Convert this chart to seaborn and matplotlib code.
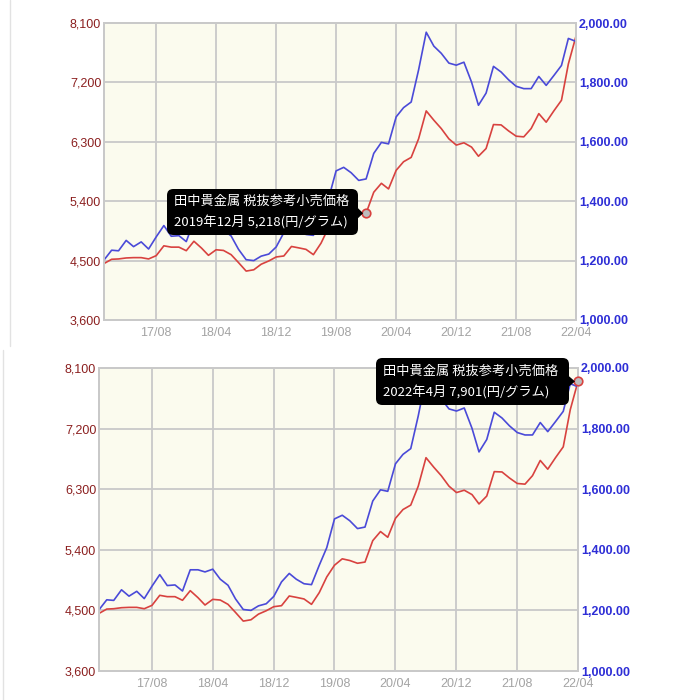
import numpy as np
import pandas as pd
import matplotlib
matplotlib.use("Agg")
import matplotlib.pyplot as plt
import matplotlib.dates as mdates
from matplotlib.patches import FancyBboxPatch, Polygon
from matplotlib.lines import Line2D
import seaborn as sns

# -----------------------------
# DATA (monthly, 2017/01 - 2022/04)
# -----------------------------
start_month = "2017-01-01"

# Tanaka retail price, yen / gram (left axis)
price_jpy = [4455, 4520, 4525, 4540, 4545, 4545, 4525, 4575, 4724, 4704,
             4704, 4650, 4793, 4689, 4580, 4664, 4654, 4590, 4470, 4341,
             4361, 4445, 4495, 4555, 4570, 4714, 4694, 4670, 4590, 4764,
             4997, 5171, 5266, 5241, 5200, 5218, 5536, 5671, 5586, 5868,
             5998, 6064, 6345, 6768, 6627, 6501, 6345, 6250, 6285, 6220,
             6081, 6198, 6561, 6556, 6466, 6385, 6375, 6501, 6727, 6597,
             6768, 6929, 7480, 7901]

# gold, USD / oz (right axis)
price_usd = [1202, 1235, 1233, 1268, 1247, 1263, 1239, 1280, 1318, 1282,
             1284, 1264, 1334, 1334, 1327, 1336, 1303, 1283, 1238, 1203,
             1200, 1215, 1222, 1246, 1294, 1322, 1303, 1288, 1285, 1349,
             1407, 1502, 1514, 1496, 1470, 1475, 1561, 1598, 1593, 1684,
             1715, 1734, 1842, 1969, 1922, 1898, 1865, 1858, 1868, 1801,
             1723, 1764, 1854, 1835, 1809, 1787, 1779, 1779, 1820, 1790,
             1823, 1857, 1948, 1938]

x_ticks = ["17/08", "18/04", "18/12", "19/08", "20/04", "20/12", "21/08", "22/04"]
left_ticks = [3600, 4500, 5400, 6300, 7200, 8100]
right_ticks = [1000, 1200, 1400, 1600, 1800, 2000]

tip_title = "田中貴金属 税抜参考小売価格"
tips = [("2019-12-01", "2019年12月"), ("2022-04-01", "2022年4月")]

df = pd.DataFrame({
    "Month": pd.date_range(start_month, periods=len(price_jpy), freq="MS"),
    "JPY": price_jpy,
    "USD": price_usd,
})

# -----------------------------
# STYLE
# -----------------------------
sns.set_theme(style="white")
plt.rcParams["font.family"] = ["Liberation Sans", "DejaVu Sans"]
CJK = ["Noto Sans CJK JP", "DejaVu Sans"]

BG = "#FBFBEE"
GRID = "#C9C9C9"
RED = "#D8423F"
BLUE = "#4A4AD8"

W = H = 700
fig = plt.figure(figsize=(7, 7), dpi=100, facecolor="white")


def fx(x):
    return x / W


def fy(y):
    return 1 - y / H


def draw_panel(rect_px, tip_idx, box_px):
    left, top, right, bottom = rect_px
    ax = fig.add_axes([fx(left), fy(bottom), fx(right - left), (bottom - top) / H])
    ax.set_facecolor(BG)
    ax2 = ax.twinx()

    sns.lineplot(data=df, x="Month", y="JPY", color=RED, linewidth=1.2, ax=ax)
    sns.lineplot(data=df, x="Month", y="USD", color=BLUE, linewidth=1.2, ax=ax2)

    ax.set_xlim(df["Month"].iloc[0], df["Month"].iloc[-1])
    ax.set_ylim(left_ticks[0], left_ticks[-1])
    ax2.set_ylim(right_ticks[0], right_ticks[-1])

    tick_dates = [pd.Timestamp("20" + t.replace("/", "-") + "-01") for t in x_ticks]
    ax.set_xticks(tick_dates)
    ax.xaxis.set_major_formatter(mdates.DateFormatter("%y/%m"))
    ax.set_yticks(left_ticks)
    ax.set_yticklabels([f"{v:,}" for v in left_ticks])
    ax2.set_yticks(right_ticks)
    ax2.set_yticklabels([f"{v:,.2f}" for v in right_ticks])

    ax.grid(True, color=GRID, linewidth=1.3)
    ax2.grid(False)
    ax.set_axisbelow(True)
    for a in (ax, ax2):
        a.set_xlabel("")
        a.set_ylabel("")
        for sp in a.spines.values():
            sp.set_color(GRID)
            sp.set_linewidth(1.3)
    ax.tick_params(axis="x", length=0, pad=5, labelsize=9, labelcolor="#A3A3A3")
    ax.tick_params(axis="y", length=0, pad=2, labelsize=9, labelcolor="#8B1F1F")
    ax2.tick_params(axis="y", length=0, pad=2, labelsize=9, labelcolor="#2E2ED6")
    for lbl in ax2.get_yticklabels():
        lbl.set_fontweight("bold")

    # hovered point marker
    tip_date, tip_label = tips[tip_idx]
    row = df[df["Month"] == pd.Timestamp(tip_date)].iloc[0]
    ax2.scatter([row["Month"]], [row["JPY"]], s=38, facecolor="#BDBDBD",
                edgecolor=RED, linewidth=1.2, zorder=10, clip_on=False,
                transform=ax.transData)

    # tooltip box (figure pixel coords)
    bx0, by0, bx1, by1 = box_px
    mx, my = ax.transData.transform((mdates.date2num(row["Month"]), row["JPY"]))
    mx, my = mx, H - my
    box = FancyBboxPatch((fx(bx0), fy(by1)), fx(bx1 - bx0), (by1 - by0) / H,
                         boxstyle="round,pad=0,rounding_size=0.009",
                         transform=fig.transFigure, facecolor="black",
                         edgecolor="none", zorder=20)
    fig.patches.append(box)
    arrow = Polygon([(fx(bx1 - 1), fy(my - 6)), (fx(bx1 - 1), fy(my + 6)),
                     (fx(mx - 3), fy(my))], closed=True,
                    transform=fig.transFigure, facecolor="black",
                    edgecolor="none", zorder=20)
    fig.patches.append(arrow)
    lh = (by1 - by0) / 2
    fig.text(fx(bx0 + 7), fy(by0 + lh * 0.55), tip_title, family=CJK,
             fontsize=9.5, color="white", va="center", ha="left", zorder=21)
    fig.text(fx(bx0 + 7), fy(by0 + lh * 1.45),
             f"{tip_label} {int(row['JPY']):,}(円/グラム)", family=CJK,
             fontsize=9.5, color="white", va="center", ha="left", zorder=21)


# ── top screenshot ─────────────────────────────
draw_panel((104, 23, 576, 320), 0, (167, 189, 358, 235))
# ── bottom screenshot ──────────────────────────
draw_panel((99, 368, 578, 671), 1, (376, 358, 569, 405))

# faint screenshot borders
fig.add_artist(Line2D([fx(10), fx(10)], [fy(0), fy(346)], color="#E2E2E2",
                      linewidth=1, transform=fig.transFigure))
fig.add_artist(Line2D([fx(3), fx(3)], [fy(350), fy(700)], color="#E2E2E2",
                      linewidth=1, transform=fig.transFigure))

plt.savefig("out.png", dpi=100, facecolor="white")
